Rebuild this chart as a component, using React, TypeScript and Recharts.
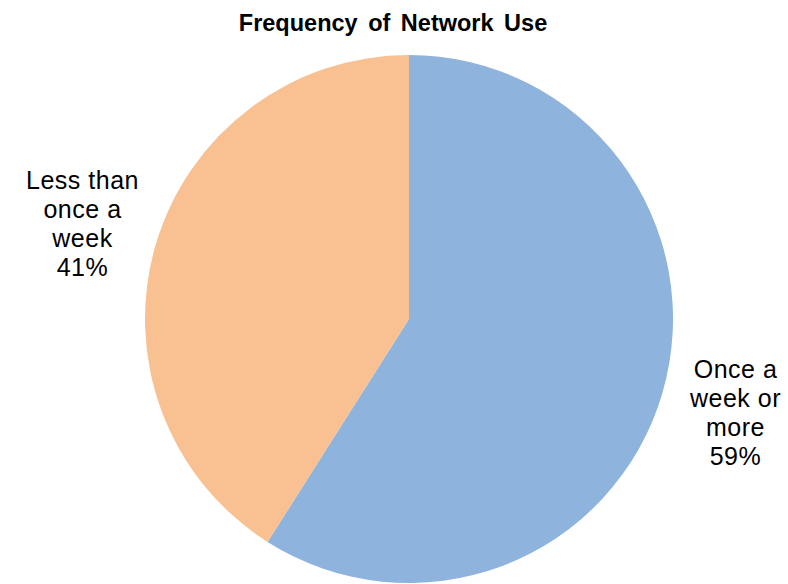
import { PieChart, Pie, Cell } from "recharts";

const categories = ["Once a week or more", "Less than once a week"];
const values = [59, 41];
const labelLines = [
  ["Once a", "week or", "more"],
  ["Less than", "once a", "week"],
];
const COLORS = ["#8EB3DD", "#F9C191"];

const data = categories.map((name, i) => ({ name, value: values[i], lines: labelLines[i] }));

const RAD = Math.PI / 180;

const renderLabel = (props: any) => {
  const { cx, cy, midAngle, outerRadius, index } = props;
  const r = outerRadius + 76;
  const x = cx + r * Math.cos(-midAngle * RAD);
  const y = cy + r * Math.sin(-midAngle * RAD);
  const lines = [...data[index].lines, `${values[index]}%`];
  const lh = 29;
  const top = y - ((lines.length - 1) / 2) * lh + 8;
  return (
    <text
      x={x}
      y={top}
      textAnchor="middle"
      fill="#000"
      fontSize={25}
      letterSpacing={0.5}
      fontFamily="'Liberation Sans', Arial, sans-serif"
    >
      {lines.map((l, i) => (
        <tspan key={i} x={x} y={top + i * lh}>
          {l}
        </tspan>
      ))}
    </text>
  );
};

export default function App() {
  return (
    <div style={{ position: "absolute", left: 0, top: 0, width: 788, height: 584, background: "#fff" }}>
      <PieChart width={788} height={584} margin={{ top: 0, right: 0, bottom: 0, left: 0 }}>
        <text
          x={393}
          y={31}
          textAnchor="middle"
          fontSize={23.5}
          fontWeight="bold"
          wordSpacing={4}
          fontFamily="'Liberation Sans', Arial, sans-serif"
          fill="#000"
        >
          Frequency of Network Use
        </text>
        <Pie
          data={data}
          dataKey="value"
          nameKey="name"
          cx={409}
          cy={319}
          outerRadius={264}
          startAngle={90}
          endAngle={-270}
          stroke="none"
          label={renderLabel}
          labelLine={false}
          isAnimationActive={false}
        >
          {data.map((_, i) => (
            <Cell key={i} fill={COLORS[i]} />
          ))}
        </Pie>
      </PieChart>
    </div>
  );
}
